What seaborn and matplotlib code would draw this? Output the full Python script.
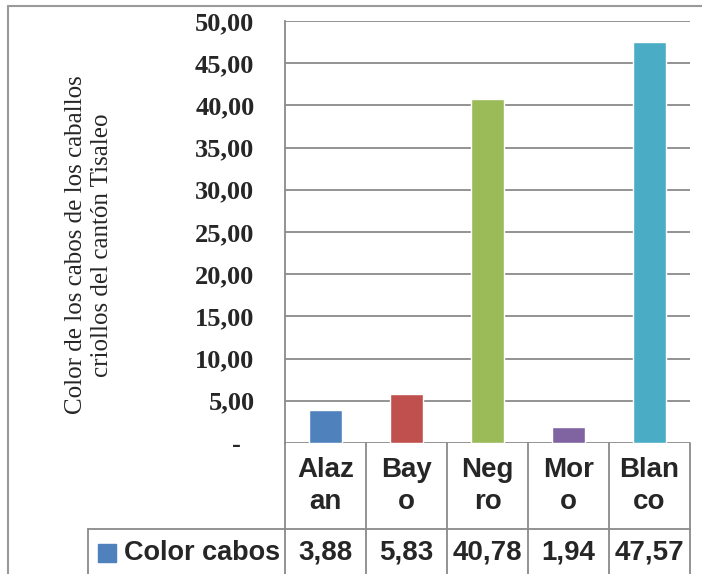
import matplotlib
matplotlib.use("Agg")
import matplotlib.pyplot as plt
import matplotlib.transforms as mtransforms
from matplotlib.lines import Line2D
import seaborn as sns
import pandas as pd

# Data
categories = ["Alazan", "Bayo", "Negro", "Moro", "Blanco"]
table_labels = ["Alaz\nan", "Bay\no", "Neg\nro", "Mor\no", "Blan\nco"]
values = [3.88, 5.83, 40.78, 1.94, 47.57]
series_name = "Color cabos"
y_ticks = [0, 5, 10, 15, 20, 25, 30, 35, 40, 45, 50]
y_title = "Color de los cabos de los caballos\ncriollos del cantón Tisaleo"
bar_colors = ["#4F81BD", "#C0504D", "#9BBB59", "#8064A2", "#4BACC6"]

sns.set_style("white")
plt.rcParams["font.family"] = ["Liberation Serif", "DejaVu Serif"]

W, H = 702, 574
fig = plt.figure(figsize=(W / 100, H / 100), dpi=100)
ax = fig.add_axes([285 / W, 1 - 443 / H, 405 / W, 422 / H])

df = pd.DataFrame({"cat": categories, "val": values})
sns.barplot(data=df, x="cat", y="val", hue="cat", palette=bar_colors,
            width=0.41, saturation=1, legend=False, ax=ax, zorder=3)

grid_c = "#8a8a8a"
ax.set_xlim(-0.5, len(categories) - 0.5)
ax.set_ylim(0, 50)
ax.set_yticks(y_ticks)
# accounting-style labels: zero shown as a dash
ax.set_yticklabels(["-  " if t == 0 else f"{t:.2f}".replace(".", ",") for t in y_ticks],
                   fontweight="bold", fontsize=19,
                   fontfamily=["Liberation Serif", "DejaVu Serif"])
ax.tick_params(axis="y", length=0, pad=22)
ax.set_xticks([])
ax.set_xlabel("")
ax.set_ylabel("")
ax.yaxis.grid(True, color=grid_c, lw=1.3, zorder=0)
ax.set_axisbelow(True)
for s in ["top", "right", "bottom"]:
    ax.spines[s].set_visible(False)
ax.spines["left"].set_color(grid_c)
ax.spines["left"].set_linewidth(1.3)

# Data table under the plot (x in data units, y in axes units)
trans = mtransforms.blended_transform_factory(ax.transData, ax.transAxes)
row_split = -86 / 422
table_bottom = -0.4
legend_left = -0.5 - 197 / 81

def tline(xs, ys):
    ax.add_line(Line2D(xs, ys, transform=trans, color=grid_c, lw=1.3,
                       clip_on=False, zorder=4))

tline([legend_left, len(categories) - 0.5], [row_split, row_split])
tline([legend_left, legend_left], [row_split, table_bottom])
tline([-0.5, -0.5], [0, table_bottom])
for i in range(len(categories)):
    tline([i + 0.5, i + 0.5], [0, table_bottom])

sans = ["Liberation Sans", "DejaVu Sans"]
for i, (lab, v) in enumerate(zip(table_labels, values)):
    ax.text(i, row_split / 2, lab, transform=trans, ha="center", va="center",
            fontsize=20, fontweight="bold", fontfamily=sans, linespacing=1.3,
            clip_on=False)
    ax.text(i, -110 / 422, f"{v:.2f}".replace(".", ","), transform=trans,
            ha="center", va="center", fontsize=20, fontweight="bold",
            fontfamily=sans, clip_on=False)

# Legend key in the table's series row
ax.plot([-0.5 - 178 / 81], [-110 / 422], marker="s", markersize=13,
        color=bar_colors[0], transform=trans, clip_on=False, ls="none")
ax.text(-0.5 - 161 / 81, -110 / 422, series_name, transform=trans,
        ha="left", va="center", fontsize=19.5, fontweight="bold",
        fontfamily=sans, clip_on=False)

# Axis title
fig.text(89 / W, 1 - 245 / H, y_title, rotation=90, ha="center", va="center",
         multialignment="center", fontsize=18, linespacing=1.25,
         fontfamily=["Liberation Serif", "DejaVu Serif"])

# Chart frame
fig.add_artist(Line2D([8 / W, 8 / W], [0, 1 - 6 / H], transform=fig.transFigure,
                      color="#9a9a9a", lw=1.5))
fig.add_artist(Line2D([8 / W, 1], [1 - 6 / H, 1 - 6 / H], transform=fig.transFigure,
                      color="#9a9a9a", lw=1.5))

fig.savefig("out.png", dpi=100)
